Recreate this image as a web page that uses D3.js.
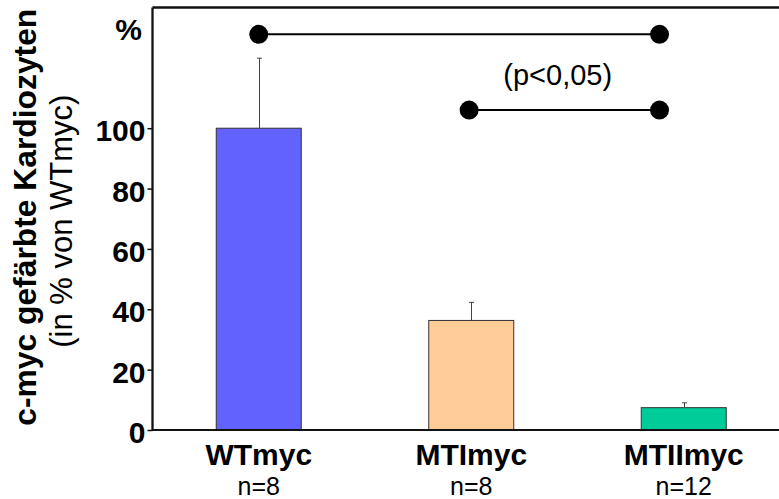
<!DOCTYPE html>
<html>
<head>
<meta charset="utf-8">
<script src="https://cdn.jsdelivr.net/npm/d3@7"></script>
<style>
  html, body { margin: 0; padding: 0; background: #fff; }
  text { font-family: "Liberation Sans", Arial, sans-serif; }
</style>
</head>
<body>
<svg id="chart" width="779" height="499"></svg>
<script>
// --- data ---
const categories = ["WTmyc", "MTImyc", "MTIImyc"];
const nLabels = ["n=8", "n=8", "n=12"];
const means = [100, 36.3, 7.4];
const errUpper = [123.2, 42.3, 9.0];
const barColors = ["#6262ff", "#ffcc99", "#00cc99"];
const yTicks = [0, 20, 40, 60, 80, 100];
// significance brackets: category index positions and height (in %)
const bracketFrom = [0, 0.99];
const bracketTo = [1.886, 1.886];
const bracketY = [131.1, 106.0];
const pText = "(p<0,05)";

const svg = d3.select("#chart");
const width = +svg.attr("width");
const height = +svg.attr("height");
const margin = { top: 7.5, left: 152.5, bottom: 69 };

// --- scales ---
const x = d3.scaleBand()
  .domain(categories)
  .range([margin.left, 790])
  .padding(0);

const xi = d3.scaleLinear()
  .domain([0, 1])
  .range([x(categories[0]) + x.bandwidth() / 2, x(categories[1]) + x.bandwidth() / 2]);

const y = d3.scaleLinear()
  .domain([0, 140])
  .range([height - margin.bottom, margin.top]);

const barW = x.bandwidth() * 0.4;

// --- bars ---
svg.selectAll("rect.bar")
  .data(categories)
  .enter()
  .append("rect")
  .attr("class", "bar")
  .attr("x", d => x(d) + x.bandwidth() / 2 - barW / 2)
  .attr("y", (d, i) => y(means[i]))
  .attr("width", barW)
  .attr("height", (d, i) => y(0) - y(means[i]))
  .attr("fill", (d, i) => barColors[i])
  .attr("stroke", "#333")
  .attr("stroke-width", 1);

// --- error bars (upper only) ---
const err = svg.append("g")
  .attr("stroke", "#444")
  .attr("stroke-width", 1);
categories.forEach((c, i) => {
  const cx = Math.round(x(c) + x.bandwidth() / 2) + 0.5;
  err.append("line")
    .attr("x1", cx).attr("x2", cx)
    .attr("y1", y(means[i])).attr("y2", y(errUpper[i]));
  err.append("line")
    .attr("x1", cx - 2.5).attr("x2", cx + 2.5)
    .attr("y1", y(errUpper[i])).attr("y2", y(errUpper[i]));
});

// --- frame: top line, y axis, baseline ---
svg.append("line")
  .attr("x1", margin.left).attr("x2", width)
  .attr("y1", y(140)).attr("y2", y(140))
  .attr("stroke", "#111").attr("stroke-width", 2.5);

svg.append("line")
  .attr("x1", width).attr("x2", margin.left)
  .attr("y1", y(0)).attr("y2", y(0))
  .attr("stroke", "#111").attr("stroke-width", 2);

const yAxis = svg.append("g")
  .attr("transform", `translate(${margin.left},0)`)
  .call(d3.axisLeft(y).tickValues(yTicks).tickSize(5).tickPadding(2).tickFormat(d3.format("d")));
yAxis.select(".domain")
  .attr("d", `M0,${y(140)}V${y(0) + 1}`)
  .attr("stroke", "#111")
  .attr("stroke-width", 2.3);
yAxis.selectAll(".tick line").attr("stroke", "#111").attr("stroke-width", 1.5);
yAxis.selectAll(".tick text")
  .attr("dy", "0.42em")
  .style("font-family", "'Liberation Sans', Arial, sans-serif")
  .style("font-size", "30px")
  .style("font-weight", "bold")
  .attr("fill", "#000");

// "%" unit label
svg.append("text")
  .attr("x", 142)
  .attr("y", y(129.3))
  .attr("text-anchor", "end")
  .style("font-size", "30px")
  .style("font-weight", "bold")
  .text("%");

// --- y title ---
svg.append("text")
  .attr("transform", `translate(36,${y(70.5)}) rotate(-90)`)
  .attr("text-anchor", "middle")
  .style("font-size", "31.8px")
  .style("font-weight", "bold")
  .text("c-myc gefärbte Kardiozyten");

svg.append("text")
  .attr("transform", `translate(72,${y(69.2)}) rotate(-90)`)
  .attr("text-anchor", "middle")
  .style("font-size", "31px")
  .text("(in % von WTmyc)");

// --- category labels ---
svg.selectAll("text.cat")
  .data(categories)
  .enter()
  .append("text")
  .attr("class", "cat")
  .attr("x", d => x(d) + x.bandwidth() / 2)
  .attr("y", 465)
  .attr("text-anchor", "middle")
  .style("font-size", "30px")
  .style("font-weight", "bold")
  .text(d => d);

svg.selectAll("text.n")
  .data(nLabels)
  .enter()
  .append("text")
  .attr("class", "n")
  .attr("x", (d, i) => x(categories[i]) + x.bandwidth() / 2)
  .attr("y", 495)
  .attr("text-anchor", "middle")
  .style("font-size", "25px")
  .text(d => d);

// --- significance brackets ---
bracketY.forEach((v, i) => {
  const g = svg.append("g");
  g.append("line")
    .attr("x1", xi(bracketFrom[i])).attr("x2", xi(bracketTo[i]))
    .attr("y1", y(v)).attr("y2", y(v))
    .attr("stroke", "#000").attr("stroke-width", 2);
  [bracketFrom[i], bracketTo[i]].forEach(p => {
    g.append("circle")
      .attr("cx", xi(p))
      .attr("cy", y(v))
      .attr("r", 9.5)
      .attr("fill", "#000");
  });
});

svg.append("text")
  .attr("x", xi(1.407))
  .attr("y", y(114.3))
  .attr("text-anchor", "middle")
  .style("font-size", "29px")
  .text(pText);
</script>
</body>
</html>
